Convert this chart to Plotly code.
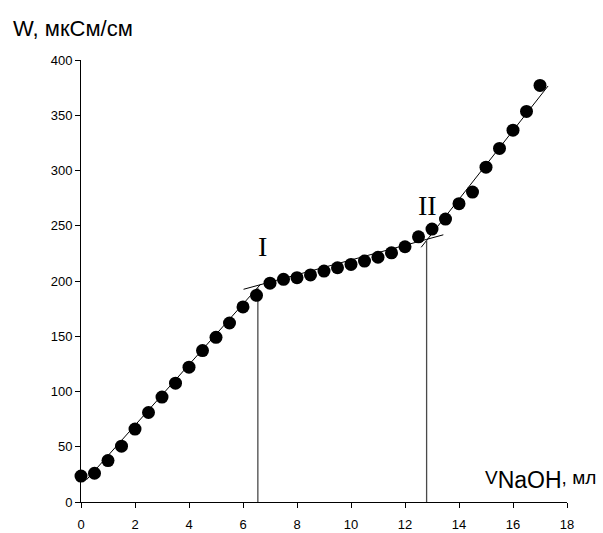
import plotly.graph_objects as go

# Measured points
vol = [0, 0.5, 1, 1.5, 2, 2.5, 3, 3.5, 4, 4.5, 5, 5.5, 6, 6.5, 7, 7.5, 8, 8.5, 9, 9.5,
       10, 10.5, 11, 11.5, 12, 12.5, 13, 13.5, 14, 14.5, 15, 15.5, 16, 16.5, 17]
cond = [23.5, 26, 37.5, 50.5, 66, 81, 95, 107.5, 122, 137, 149, 162, 176.5, 187, 198, 201.5,
        203, 205.5, 209, 212, 215, 218, 221.5, 225.5, 231, 240, 247, 256, 270, 280.5,
        303, 320, 336.5, 353.5, 377]

# Fitted segment lines
fit1_x = [0.2, 6.65]
fit1_y = [20, 197]
fit2_x = [6.02, 13.42]
fit2_y = [192.5, 241.8]
fit3_x = [12.6, 17.3]
fit3_y = [230.5, 376.5]

# Equivalence points (vertical drop lines)
eq_x = [6.55, 12.8]
eq_y = [194, 237.5]
eq_labels = ["I", "II"]
eq_label_x = [6.73, 12.83]
eq_label_y = [231, 268]

x_ticks = [0, 2, 4, 6, 8, 10, 12, 14, 16, 18]
y_ticks = [0, 50, 100, 150, 200, 250, 300, 350, 400]

fig = go.Figure()

for fx, fy in [(fit1_x, fit1_y), (fit2_x, fit2_y), (fit3_x, fit3_y)]:
    fig.add_trace(go.Scatter(x=fx, y=fy, mode="lines",
                             line=dict(color="black", width=1), showlegend=False,
                             hoverinfo="skip"))

for ex, ey in zip(eq_x, eq_y):
    fig.add_trace(go.Scatter(x=[ex, ex], y=[0, ey], mode="lines",
                             line=dict(color="#4a4a4a", width=1.3), showlegend=False,
                             hoverinfo="skip"))

fig.add_trace(go.Scatter(x=vol, y=cond, mode="markers",
                         marker=dict(color="black", size=13),
                         showlegend=False, cliponaxis=False))

for lx, lab, ly in zip(eq_label_x, eq_labels, eq_label_y):
    fig.add_annotation(x=lx, y=ly, text=lab, showarrow=False,
                       font=dict(family="Liberation Serif", size=28, color="black"),
                       xanchor="center", yanchor="middle")

fig.add_annotation(xref="paper", yref="paper", x=-0.144, y=1.072,
                   text="W, мкСм/см", showarrow=False, xanchor="left", yanchor="middle",
                   font=dict(family="Liberation Sans", size=22, color="black"))

fig.add_annotation(xref="paper", yref="paper", x=0.828, y=0.05,
                   text="V<sub><span style='font-size:23px'>NaOH</span></sub>, мл",
                   showarrow=False, xanchor="left", yanchor="middle",
                   font=dict(family="Liberation Sans", size=19, color="black"))

fig.update_xaxes(range=[0, 18], tickvals=x_ticks, showgrid=False, zeroline=False,
                 showline=True, linecolor="black", linewidth=1, automargin=False,
                 ticks="outside", ticklen=5, tickcolor="black", ticklabelstandoff=5,
                 tickfont=dict(family="Liberation Sans", size=13, color="black"))
fig.update_yaxes(range=[0, 400], tickvals=y_ticks, showgrid=False, zeroline=False,
                 showline=True, linecolor="black", linewidth=1, automargin=False,
                 ticks="outside", ticklen=5, tickcolor="black",
                 tickfont=dict(family="Liberation Sans", size=13, color="black"))

fig.update_layout(width=603, height=533, plot_bgcolor="white", paper_bgcolor="white",
                  margin=dict(l=81, r=36, t=60, b=31))

fig.write_html("out.html", config={"displayModeBar": False},
               post_script="document.body.style.margin='0px';")
